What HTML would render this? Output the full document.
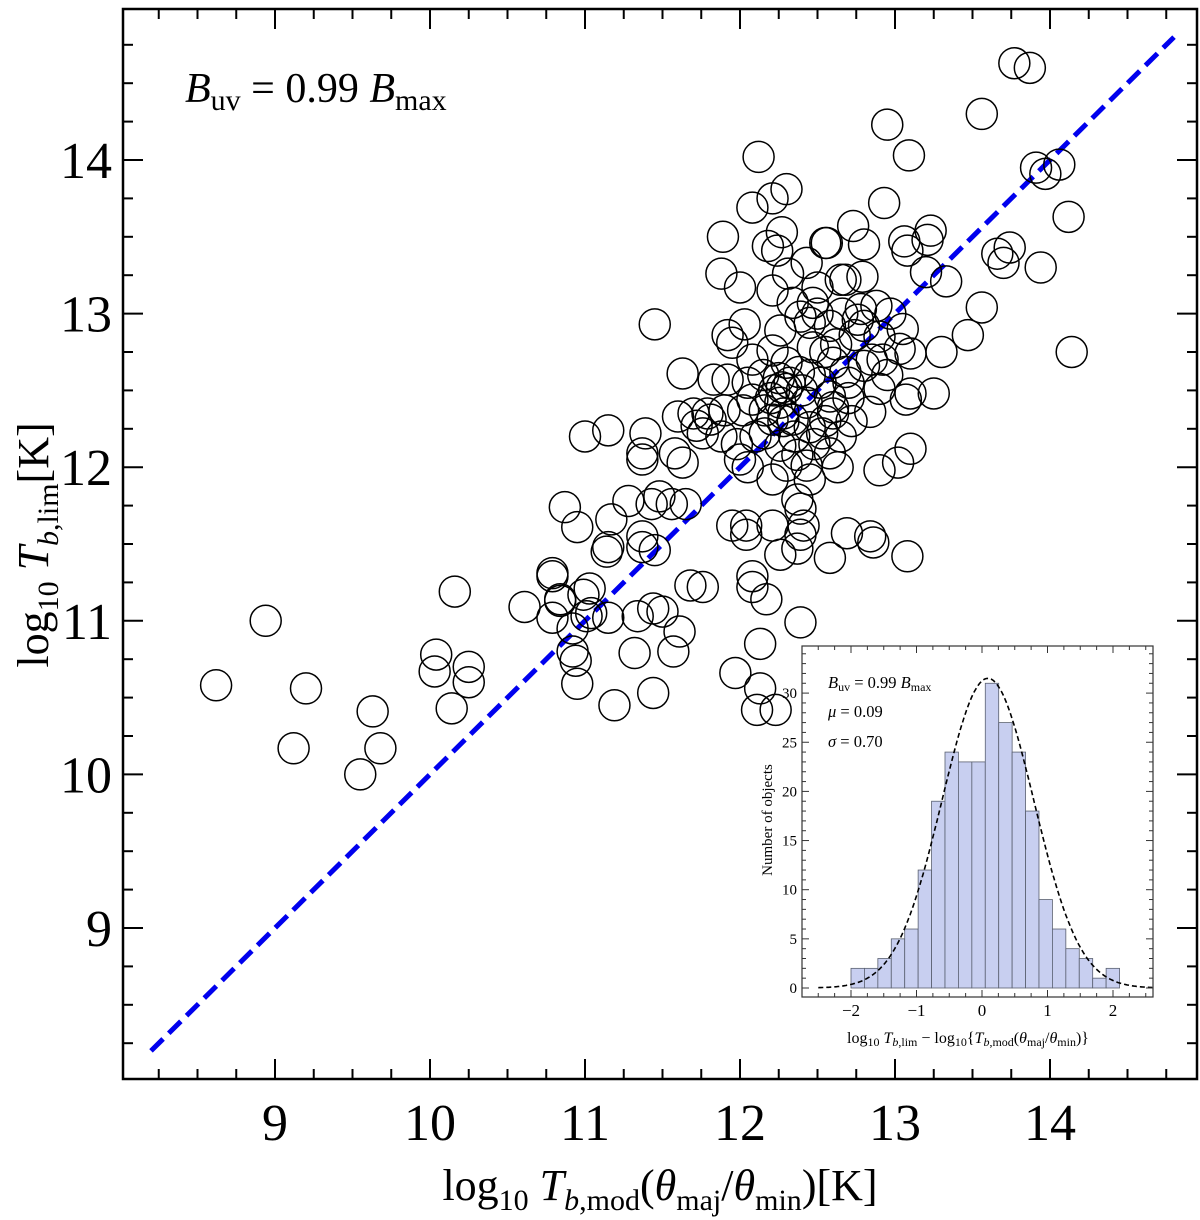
<!DOCTYPE html>
<html><head><meta charset="utf-8"><style>
body{margin:0;background:#fff}
svg{display:block;font-family:"Liberation Serif",serif}
</style></head><body>
<svg id="chart" width="1200" height="1220" viewBox="0 0 1200 1220" xmlns="http://www.w3.org/2000/svg">
<rect x="0" y="0" width="1200" height="1220" fill="#fff"/>
<g id="main"></g>
<g id="inset"></g>
</svg>
<script>
const scatterPoints = [
[8.62,10.58],[8.94,11.00],[9.12,10.17],[9.20,10.56],[9.63,10.41],[9.55,10.00],[9.68,10.17],[10.04,10.78],[10.03,10.67],[10.14,10.43],[10.25,10.70],[10.25,10.60],[10.16,11.19],[10.61,11.09],[10.79,11.29],[10.87,11.74],[10.95,11.61],[11.00,12.20],[10.79,11.02],[10.84,11.13],[10.92,10.95],[10.94,10.74],[11.03,11.21],[10.99,11.17],
[11.15,12.24],[11.37,12.09],[11.39,12.22],[11.37,12.05],[11.58,12.09],[11.63,12.03],[11.60,12.33],[11.72,12.27],[11.79,12.35],[11.76,12.22],[11.88,12.20],[12.00,12.05],[12.02,12.37],[12.16,12.22],[12.21,12.31],[12.26,12.14],[12.21,11.92],[12.30,12.01],[12.37,12.08],[12.43,12.01],[12.45,11.92],[12.34,12.31],[12.45,12.26],[12.53,12.22],[12.58,12.09],[12.60,12.35],
[11.17,11.66],[11.28,11.78],[11.15,11.48],[11.14,11.45],[11.37,11.55],[11.37,11.48],[11.45,11.46],[11.43,11.76],[11.48,11.81],[11.56,11.76],[11.65,11.76],[11.95,11.62],[12.04,11.62],[12.04,11.56],[12.21,11.62],[12.39,11.73],[12.41,11.62],[12.39,11.56],[12.37,11.47],[12.26,11.43],[12.58,11.41],
[10.79,11.31],[10.84,11.14],[11.01,11.03],[11.04,11.05],[10.92,10.80],[10.95,10.59],[11.15,11.02],[11.34,11.03],[11.32,10.79],[11.44,11.08],[11.50,11.06],[11.61,10.93],[11.57,10.80],[11.68,11.23],[11.76,11.22],[12.08,11.29],[12.08,11.22],[12.17,11.14],[12.39,10.99],[12.13,10.85],[11.97,10.66],[12.13,10.56],[12.11,10.42],[12.23,10.42],[11.19,10.45],[11.44,10.53],
[12.12,14.02],[12.30,13.81],[12.21,13.75],[12.08,13.69],[11.89,13.50],[12.27,13.53],[12.18,13.44],[12.24,13.41],[12.55,13.46],[11.88,13.26],[12.00,13.17],[12.31,13.26],[12.43,13.33],[12.21,13.15],[12.50,13.17],[12.65,13.22],[11.45,12.93],[12.03,12.93],[11.92,12.86],[11.95,12.81],[12.26,12.89],[12.39,12.98],[12.45,12.94],[12.47,13.07],[12.34,13.07],[11.63,12.61],[11.83,12.57],[11.92,12.57],[12.08,12.70],[12.21,12.76],[12.30,12.68],[12.47,12.78],[12.60,12.68],[12.30,12.51],[12.26,12.42],[12.43,12.42],[12.58,12.46],[12.08,12.44],[12.16,12.37],[11.90,12.37],[11.70,12.35],[11.81,12.31],
[13.77,14.63],[13.87,14.60],[13.56,14.30],[12.95,14.23],[13.09,14.03],[13.91,13.95],[14.06,13.97],[13.97,13.91],[12.93,13.72],[14.12,13.63],[12.73,13.57],[12.56,13.46],[12.80,13.45],[13.06,13.47],[13.23,13.54],[13.08,13.41],[13.21,13.48],[13.66,13.39],[13.74,13.43],[13.70,13.33],[13.94,13.30],[13.20,13.27],[13.33,13.21],[12.68,13.22],[12.79,13.24],[13.56,13.04],[13.47,12.86],[13.30,12.75],[14.14,12.75],[13.25,12.48],[13.10,12.48],[13.07,12.44],[12.90,12.51],[12.84,12.36],[12.80,12.66],[13.03,12.77],[13.10,12.74],[12.92,12.70],[12.80,12.92],[12.74,12.86],[12.76,12.96],
[12.90,11.98],[13.02,12.03],[13.10,12.12],[12.69,11.57],[12.84,11.55],[12.63,12.00],[12.65,12.20],[12.60,12.39],[12.37,11.79],[13.08,11.42],[12.86,11.51],
[12.05,12.55],[12.15,12.60],[12.25,12.58],[12.32,12.55],[12.38,12.62],[12.45,12.60],[12.52,12.55],[12.55,12.75],[12.62,12.80],[12.68,12.62],[12.70,12.45],[12.72,12.30],[12.55,12.30],[12.48,12.15],[12.35,12.20],[12.28,12.30],[12.20,12.45],[12.10,12.20],[11.98,12.15],[12.05,12.00],[12.40,12.50],[12.27,12.52],[12.22,12.50],[12.28,12.35],[12.50,13.00],[12.58,12.92],[12.66,13.00],[12.90,12.85],[12.95,12.60],[13.05,12.90],[12.85,12.70],[12.70,12.55],[12.88,13.05],[12.97,13.00],[12.78,13.03]
];
const xTickLabels = [9,10,11,12,13,14];
const yTickLabels = [9,10,11,12,13,14];
const histCounts = [2,2,3,5,6,12,19,24,23,23,31,27,24,18,9,6,4,3,1,2];
const histStart = [-2.0];
const histBinWidth = [0.205];
const gaussParams = [0.09,0.70,31.5];
const insetXTicks = [-2,-1,0,1,2];
const insetYTicks = [0,5,10,15,20,25,30];

const NS="http://www.w3.org/2000/svg";
function mk(tag,attrs,parent,text){const e=document.createElementNS(NS,tag);for(const k in attrs)e.setAttribute(k,attrs[k]);if(text!==undefined)e.textContent=text;parent.appendChild(e);return e;}

const L=123,R=1197,T=9,B=1079;
const sx=v=>275+(v-9)*155;
const sy=v=>160-(v-14)*153.6;
const main=document.getElementById('main');

const line=mk('line',{x1:sx(8.2),y1:sy(8.2),x2:sx(14.8),y2:sy(14.8),stroke:'#0000ee','stroke-width':5,'stroke-dasharray':'17,8'},main);



const pts=mk('g',{},main);


scatterPoints.forEach(p=>{
  const c=mk('circle',{cx:sx(p[0]),cy:sy(p[1]),r:15.5,fill:'none',stroke:'#000','stroke-width':1.5},pts);
  
  
});

const ticks=mk('g',{stroke:'#000','stroke-width':2},main);


for(let v=8.25;v<=14.95;v+=0.25){
  const major=Math.abs(v-Math.round(v))<0.01;const len=major?20:10;const x=sx(v);
  if(x<L||x>R)continue;
  mk('line',{x1:x,y1:B,x2:x,y2:B-len},ticks);mk('line',{x1:x,y1:T,x2:x,y2:T+len},ticks);
}
for(let v=8.25;v<=15;v+=0.25){
  const major=Math.abs(v-Math.round(v))<0.01;const len=major?20:10;const y=sy(v);
  if(y<T||y>B)continue;
  mk('line',{x1:L,y1:y,x2:L+len,y2:y},ticks);mk('line',{x1:R,y1:y,x2:R-len,y2:y},ticks);
}
const fr=mk('rect',{x:L,y:T,width:R-L,height:B-T,fill:'none',stroke:'#000','stroke-width':2.5},main);



xTickLabels.forEach(v=>{
  const t=mk('text',{x:sx(v),y:1140,'font-size':52,'text-anchor':'middle'},main,String(v));
  
  
});
yTickLabels.forEach(v=>{
  const t=mk('text',{x:112,y:sy(v)+18,'font-size':52,'text-anchor':'end'},main,String(v));
  
  
});

const inset=document.getElementById('inset');
const iL=802,iR=1153,iT=646,iB=997;
const ix=v=>982+v*65.5;
const iy=v=>988-v*9.83;
mk('rect',{x:iL,y:iT,width:iR-iL,height:iB-iT,fill:'#fff'},inset);
const bars=mk('g',{},inset);


histCounts.forEach((c,i)=>{
  const x0=ix(histStart[0]+i*histBinWidth[0]),x1=ix(histStart[0]+(i+1)*histBinWidth[0]);
  const r=mk('rect',{x:x0,y:iy(c),width:x1-x0,height:iy(0)-iy(c),fill:'#c8cff0',stroke:'#5a6070','stroke-width':0.8},bars);
  
  
});
let d='';
for(let v=-2.5;v<=2.62;v+=0.02){const y=gaussParams[2]*Math.exp(-Math.pow(v-gaussParams[0],2)/(2*gaussParams[1]*gaussParams[1]));d+=(d?'L':'M')+ix(v).toFixed(1)+','+iy(y).toFixed(1);}
const g=mk('path',{d:d,fill:'none',stroke:'#000','stroke-width':1.6,'stroke-dasharray':'5,3'},inset);


const iticks=mk('g',{stroke:'#333','stroke-width':1},inset);


for(let v=-2.5;v<=2.6;v+=0.25){const maj=Math.abs(v-Math.round(v))<0.01;const x=ix(v);if(x<iL||x>iR)continue;const len=maj?7:4;
 mk('line',{x1:x,y1:iB,x2:x,y2:iB-len},iticks);mk('line',{x1:x,y1:iT,x2:x,y2:iT+len},iticks);}
for(let v=0;v<=35;v+=1){const maj=v%5===0;const y=iy(v);if(y<iT)continue;const len=maj?7:4;
 mk('line',{x1:iL,y1:y,x2:iL+len,y2:y},iticks);mk('line',{x1:iR,y1:y,x2:iR-len,y2:y},iticks);}
mk('rect',{x:iL,y:iT,width:iR-iL,height:iB-iT,fill:'none',stroke:'#333','stroke-width':1.2},inset);
insetXTicks.forEach(v=>{
  const t=mk('text',{x:ix(v),y:1016,'font-size':17,'text-anchor':'middle'},inset,v<0?'\u2212'+Math.abs(v):String(v));
  
  
});
insetYTicks.forEach(v=>{
  const t=mk('text',{x:797,y:iy(v)+5,'font-size':15,'text-anchor':'end'},inset,String(v));
  
  
});
</script>
<svg width="1200" height="1220" style="position:absolute;left:0;top:0" xmlns="http://www.w3.org/2000/svg">
<g font-family="Liberation Serif, serif" fill="#000">
<text x="185" y="102" font-size="42"><tspan font-style="italic">B</tspan><tspan font-size="30" dy="8">uv</tspan><tspan dy="-8"> = 0.99 </tspan><tspan font-style="italic">B</tspan><tspan font-size="30" dy="8">max</tspan></text>
<text x="660" y="1200" font-size="44" text-anchor="middle">log<tspan font-size="30" dy="10">10</tspan><tspan dy="-10"> </tspan><tspan font-style="italic">T</tspan><tspan font-size="30" dy="10"><tspan font-style="italic">b</tspan>,mod</tspan><tspan dy="-10">(</tspan><tspan font-style="italic">θ</tspan><tspan font-size="30" dy="10">maj</tspan><tspan dy="-10">/</tspan><tspan font-style="italic">θ</tspan><tspan font-size="30" dy="10">min</tspan><tspan dy="-10">)[K]</tspan></text>
<text transform="translate(48,545) rotate(-90)" font-size="44" text-anchor="middle">log<tspan font-size="30" dy="10">10</tspan><tspan dy="-10"> </tspan><tspan font-style="italic">T</tspan><tspan font-size="30" dy="10"><tspan font-style="italic">b</tspan>,lim</tspan><tspan dy="-10">[K]</tspan></text>
<text x="828" y="688" font-size="16.5"><tspan font-style="italic">B</tspan><tspan font-size="12" dy="3">uv</tspan><tspan dy="-3"> = 0.99 </tspan><tspan font-style="italic">B</tspan><tspan font-size="12" dy="3">max</tspan></text>
<text x="828" y="717" font-size="16.5"><tspan font-style="italic">μ</tspan> = 0.09</text>
<text x="828" y="747" font-size="16.5"><tspan font-style="italic">σ</tspan> = 0.70</text>
<text transform="translate(772,820) rotate(-90)" font-size="15" text-anchor="middle">Number of objects</text>
<text x="968" y="1043" font-size="16" text-anchor="middle">log<tspan font-size="12" dy="3">10</tspan><tspan dy="-3"> </tspan><tspan font-style="italic">T</tspan><tspan font-size="12" dy="3"><tspan font-style="italic">b</tspan>,lim</tspan><tspan dy="-3"> − log</tspan><tspan font-size="12" dy="3">10</tspan><tspan dy="-3">{</tspan><tspan font-style="italic">T</tspan><tspan font-size="12" dy="3"><tspan font-style="italic">b</tspan>,mod</tspan><tspan dy="-3">(</tspan><tspan font-style="italic">θ</tspan><tspan font-size="12" dy="3">maj</tspan><tspan dy="-3">/</tspan><tspan font-style="italic">θ</tspan><tspan font-size="12" dy="3">min</tspan><tspan dy="-3">)}</tspan></text>
</g>
</svg>
</body></html>
